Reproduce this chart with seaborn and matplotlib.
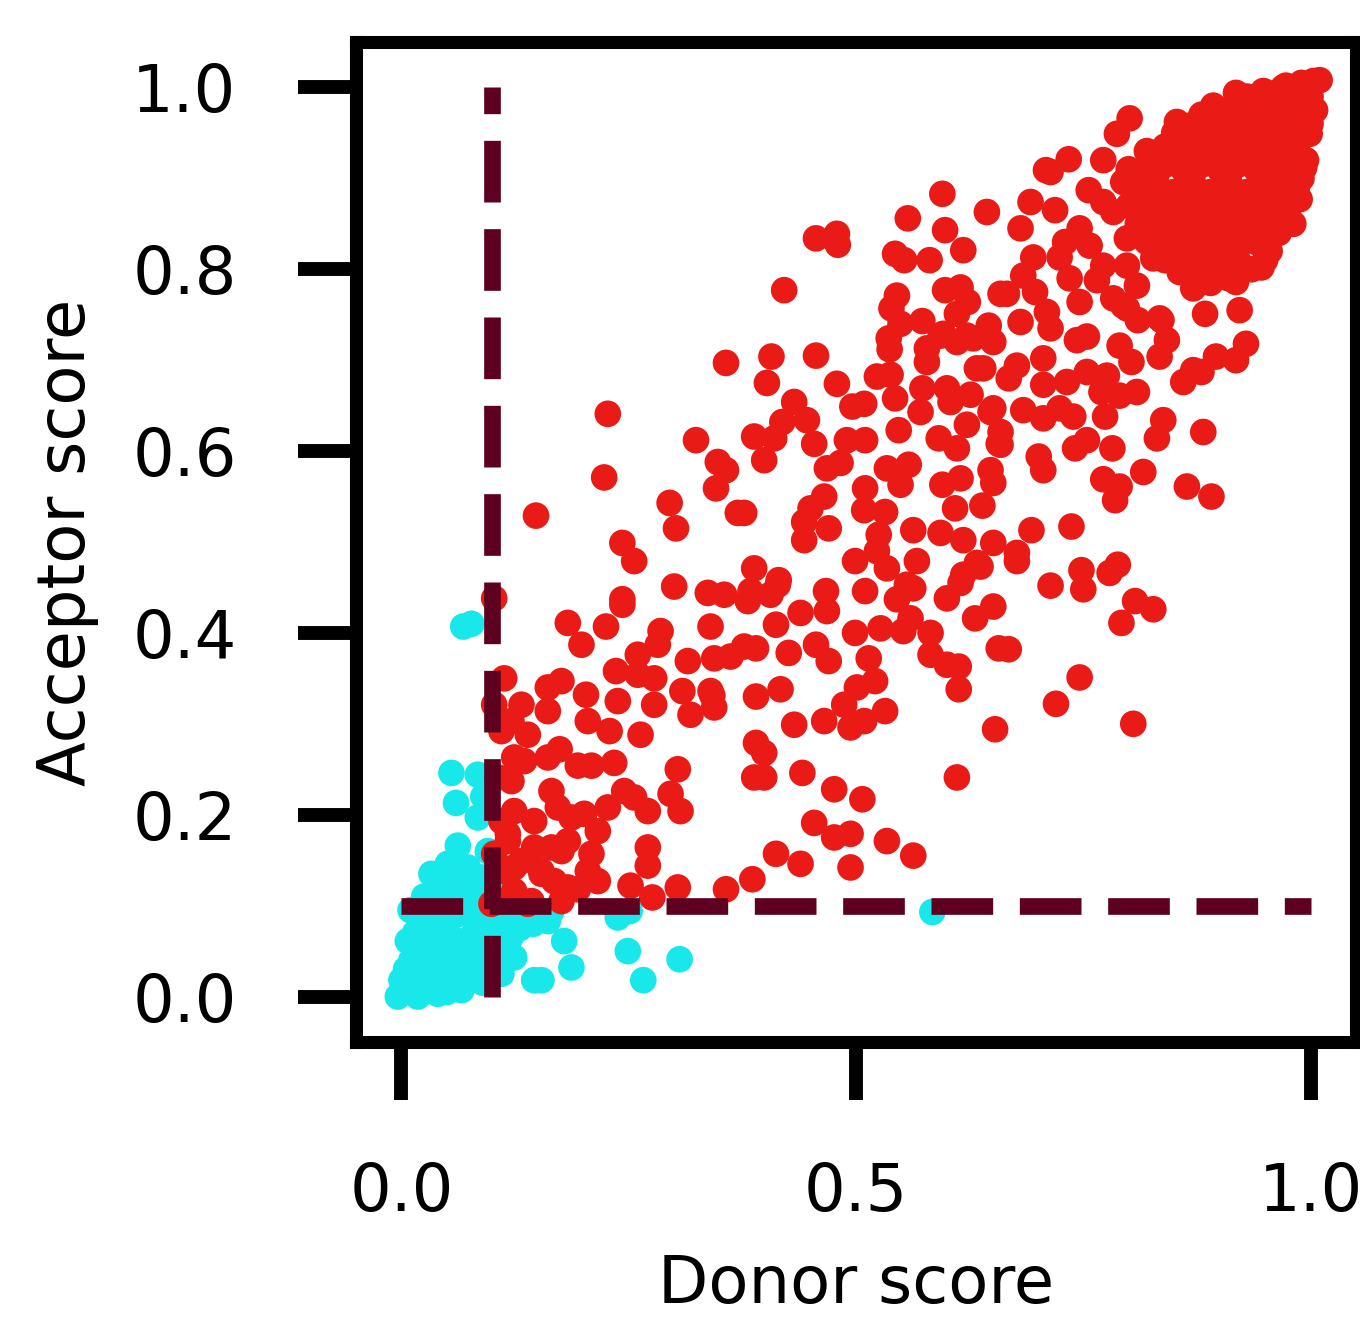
import numpy as np
import pandas as pd
import matplotlib
matplotlib.use("Agg")
import matplotlib.pyplot as plt
import seaborn as sns

# ---------------- data ----------------
red_x = [
    # upper middle
    0.595, 0.557, 0.644, 0.598, 0.456, 0.479, 0.480, 0.618, 0.543, 0.553, 0.581, 0.421, 0.545,
    0.539, 0.598, 0.615, 0.623, 0.611, 0.549, 0.573, 0.596, 0.622, 0.646, 0.659, 0.536,
    # middle
    0.407, 0.456, 0.402, 0.479, 0.537, 0.593, 0.578, 0.611, 0.629, 0.651, 0.633, 0.523, 0.538,
    0.543, 0.573, 0.578, 0.600, 0.604, 0.626, 0.651, 0.622, 0.571, 0.547, 0.591, 0.657, 0.611,
    0.432, 0.419, 0.446, 0.388, 0.410, 0.454, 0.399, 0.496, 0.509, 0.490, 0.510, 0.468, 0.483,
    0.534, 0.558, 0.549, 0.595, 0.615, 0.648, 0.510, 0.465, 0.450, 0.443, 0.470, 0.443, 0.509,
    0.532, 0.609, 0.639, 0.563, 0.593, 0.618, 0.651, 0.525, 0.523, 0.499, 0.567, 0.534, 0.633,
    0.618, 0.388, 0.415, 0.467, 0.510, 0.556, 0.377, 0.600,
    # left middle
    0.227, 0.324, 0.348, 0.357, 0.346, 0.223, 0.370, 0.148, 0.295, 0.302, 0.243, 0.256, 0.300,
    0.337, 0.355, 0.384, 0.243, 0.102, 0.357,
    # lower middle
    0.381, 0.406, 0.414, 0.468, 0.439, 0.412, 0.545, 0.563, 0.560, 0.615, 0.631, 0.651, 0.340,
    0.527, 0.552, 0.499, 0.582, 0.344, 0.362, 0.377, 0.390, 0.426, 0.456, 0.470, 0.514, 0.521,
    0.501, 0.582, 0.600, 0.613, 0.613, 0.657, 0.340, 0.344, 0.390, 0.417, 0.487, 0.509, 0.494,
    0.532, 0.465, 0.432, 0.653, 0.390, 0.399, 0.388, 0.399, 0.441, 0.476, 0.507, 0.611, 0.454,
    0.476, 0.494, 0.534, 0.563, 0.412, 0.439, 0.494, 0.386, 0.357,
    # right lower
    0.637, 0.677, 0.714, 0.748, 0.750, 0.779, 0.788, 0.807, 0.827, 0.792, 0.668, 0.746, 0.720,
    0.805,
    # right middle
    0.884, 0.922, 0.929, 0.918, 0.896, 0.880, 0.860, 0.871, 0.842, 0.834, 0.836, 0.810, 0.790,
    0.803, 0.798, 0.754, 0.743, 0.714, 0.681, 0.677, 0.668, 0.640, 0.706, 0.706, 0.732, 0.754,
    0.776, 0.770, 0.790, 0.809, 0.648, 0.684, 0.706, 0.724, 0.739, 0.774, 0.659, 0.659, 0.838,
    0.831, 0.882, 0.754, 0.741, 0.782, 0.701, 0.706, 0.651, 0.772, 0.816, 0.790, 0.785, 0.864,
    0.891, 0.693, 0.737, 0.677,
    # dense cluster edge
    0.801, 0.787, 0.853, 0.867, 0.893, 0.918, 0.948, 0.973, 1.003, 0.772, 0.734, 0.714, 0.756,
    0.692, 0.719, 0.681, 0.730, 0.695, 0.724, 0.684, 0.666, 0.697, 0.710, 0.735, 0.746, 0.765,
    0.783, 0.798, 0.809, 0.794, 0.834, 0.871, 0.900, 0.918, 0.946, 0.981, 0.988, 0.993, 0.999,
    0.948, 0.746, 0.757, 0.772, 0.798, 0.783, 0.772, 0.794, 0.816, 0.827, 0.856, 0.709,
    # dense cluster core
    0.930, 0.950, 0.970, 0.990, 1.010, 0.960, 0.980, 1.000, 1.005,
    0.880, 0.900, 0.920, 0.940, 0.960, 0.980, 1.000,
    0.850, 0.870, 0.890, 0.910, 0.930, 0.950, 0.970, 0.990,
    0.820, 0.840, 0.860, 0.880, 0.900, 0.920, 0.940, 0.960, 0.980, 0.995,
    0.800, 0.820, 0.840, 0.860, 0.880, 0.900, 0.920, 0.940, 0.960, 0.980,
    0.810, 0.830, 0.850, 0.870, 0.890, 0.910, 0.930, 0.950, 0.970, 0.985,
    0.800, 0.820, 0.840, 0.860, 0.880, 0.900, 0.920, 0.940, 0.960, 0.975,
    0.810, 0.830, 0.850, 0.870, 0.890, 0.910, 0.930, 0.950, 0.965,
    0.820, 0.840, 0.860, 0.880, 0.900, 0.920, 0.940, 0.955,
    0.840, 0.860, 0.880, 0.900, 0.920, 0.935,
    0.870, 0.890, 0.910,
    0.870, 0.910, 0.950, 0.890, 0.930, 0.970, 0.850, 0.870, 0.910, 0.950, 0.990, 0.830,
    0.850, 0.890, 0.930, 0.970, 0.830, 0.870, 0.910, 0.950, 0.850, 0.890, 0.930, 0.870,
    0.910, 0.950, 0.990, 0.970, 0.930, 0.890, 0.950,
    # lower left block
    0.183, 0.198, 0.225, 0.243, 0.285, 0.282, 0.260, 0.236, 0.260, 0.278, 0.315, 0.309, 0.318,
    0.342, 0.278, 0.238, 0.203, 0.205, 0.229, 0.263, 0.113, 0.132, 0.161, 0.176, 0.121, 0.139,
    0.161, 0.135, 0.121, 0.161, 0.174, 0.194, 0.209, 0.234, 0.304, 0.165, 0.124, 0.146, 0.172,
    0.187, 0.201, 0.227, 0.245, 0.256, 0.271, 0.296, 0.307, 0.216, 0.183, 0.165, 0.117, 0.132,
    0.113, 0.154, 0.168, 0.209, 0.205, 0.216, 0.271, 0.271, 0.252, 0.276, 0.304, 0.194, 0.176,
    0.124, 0.143, 0.110,
    0.124, 0.117, 0.146, 0.176, 0.124, 0.154, 0.183, 0.106, 0.139, 0.099,
    0.102, 0.110, 0.106, 0.110, 0.102,
]
red_y = [
    0.883, 0.856, 0.863, 0.843, 0.834, 0.839, 0.827, 0.821, 0.817, 0.810, 0.810, 0.777, 0.771,
    0.757, 0.777, 0.780, 0.764, 0.751, 0.740, 0.743, 0.729, 0.727, 0.738, 0.773, 0.724,
    0.704, 0.705, 0.675, 0.674, 0.712, 0.727, 0.713, 0.720, 0.724, 0.720, 0.691, 0.682, 0.684,
    0.658, 0.669, 0.698, 0.669, 0.654, 0.662, 0.647, 0.629, 0.643, 0.623, 0.614, 0.608, 0.603,
    0.654, 0.632, 0.634, 0.616, 0.614, 0.608, 0.590, 0.649, 0.652, 0.612, 0.612, 0.581, 0.587,
    0.581, 0.585, 0.563, 0.563, 0.570, 0.579, 0.559, 0.550, 0.537, 0.522, 0.515, 0.502, 0.535,
    0.533, 0.537, 0.540, 0.513, 0.510, 0.502, 0.499, 0.508, 0.490, 0.479, 0.479, 0.471, 0.477,
    0.464, 0.471, 0.458, 0.446, 0.446, 0.453, 0.532, 0.438,
    0.641, 0.612, 0.588, 0.579, 0.559, 0.571, 0.532, 0.529, 0.543, 0.515, 0.499, 0.479, 0.451,
    0.444, 0.442, 0.446, 0.437, 0.438, 0.697,
    0.435, 0.442, 0.453, 0.424, 0.422, 0.409, 0.437, 0.449, 0.416, 0.455, 0.416, 0.429, 0.407,
    0.405, 0.402, 0.400, 0.400, 0.372, 0.374, 0.385, 0.383, 0.378, 0.387, 0.369, 0.372, 0.347,
    0.340, 0.376, 0.365, 0.363, 0.338, 0.383, 0.336, 0.318, 0.330, 0.338, 0.321, 0.303, 0.296,
    0.314, 0.303, 0.299, 0.294, 0.279, 0.268, 0.241, 0.241, 0.246, 0.228, 0.217, 0.241, 0.191,
    0.175, 0.179, 0.171, 0.155, 0.157, 0.146, 0.142, 0.129, 0.118,
    0.473, 0.479, 0.452, 0.469, 0.448, 0.466, 0.475, 0.435, 0.426, 0.411, 0.382, 0.351, 0.322,
    0.300,
    0.751, 0.755, 0.718, 0.700, 0.704, 0.687, 0.676, 0.689, 0.722, 0.704, 0.744, 0.744, 0.716,
    0.698, 0.757, 0.726, 0.722, 0.735, 0.742, 0.694, 0.680, 0.691, 0.702, 0.673, 0.676, 0.687,
    0.683, 0.665, 0.661, 0.665, 0.643, 0.645, 0.636, 0.647, 0.638, 0.638, 0.621, 0.607, 0.634,
    0.614, 0.621, 0.612, 0.603, 0.603, 0.594, 0.579, 0.565, 0.569, 0.577, 0.561, 0.546, 0.561,
    0.550, 0.513, 0.517, 0.488,
    0.966, 0.949, 0.962, 0.958, 0.980, 0.994, 0.996, 1.002, 1.007, 0.920, 0.921, 0.907, 0.887,
    0.874, 0.865, 0.845, 0.830, 0.813, 0.813, 0.793, 0.773, 0.775, 0.753, 0.790, 0.764, 0.788,
    0.768, 0.804, 0.782, 0.760, 0.746, 0.779, 0.793, 0.786, 0.802, 0.850, 0.877, 0.912, 0.949,
    0.837, 0.845, 0.826, 0.804, 0.834, 0.863, 0.874, 0.896, 0.855, 0.812, 0.797, 0.909,
    0.990, 0.995, 1.000, 1.005, 1.008, 0.985, 0.990, 0.990, 0.975,
    0.970, 0.975, 0.980, 0.975, 0.970, 0.975, 0.960,
    0.950, 0.955, 0.950, 0.955, 0.960, 0.955, 0.950, 0.945,
    0.930, 0.935, 0.930, 0.935, 0.930, 0.940, 0.935, 0.930, 0.930, 0.920,
    0.910, 0.905, 0.915, 0.910, 0.915, 0.910, 0.915, 0.910, 0.905, 0.910,
    0.885, 0.890, 0.885, 0.890, 0.885, 0.890, 0.885, 0.890, 0.885, 0.890,
    0.870, 0.865, 0.870, 0.865, 0.870, 0.865, 0.870, 0.865, 0.870, 0.860,
    0.850, 0.845, 0.850, 0.845, 0.850, 0.845, 0.850, 0.845, 0.840,
    0.830, 0.825, 0.830, 0.825, 0.830, 0.825, 0.830, 0.820,
    0.810, 0.805, 0.810, 0.805, 0.810, 0.800,
    0.790, 0.785, 0.790,
    0.940, 0.945, 0.940, 0.920, 0.920, 0.915, 0.920, 0.900, 0.900, 0.900, 0.900, 0.900,
    0.875, 0.875, 0.875, 0.875, 0.860, 0.855, 0.855, 0.855, 0.835, 0.835, 0.835, 0.815,
    0.815, 0.810, 0.965, 0.985, 0.965, 0.960, 0.975,
    0.411, 0.387, 0.407, 0.431, 0.402, 0.387, 0.376, 0.358, 0.354, 0.350, 0.369, 0.336, 0.310,
    0.331, 0.321, 0.325, 0.332, 0.303, 0.292, 0.288, 0.350, 0.321, 0.340, 0.347, 0.303, 0.288,
    0.314, 0.259, 0.237, 0.263, 0.272, 0.254, 0.254, 0.257, 0.250, 0.226, 0.204, 0.193, 0.208,
    0.197, 0.201, 0.208, 0.226, 0.219, 0.204, 0.223, 0.204, 0.182, 0.171, 0.164, 0.171, 0.149,
    0.138, 0.138, 0.127, 0.157, 0.138, 0.127, 0.164, 0.144, 0.122, 0.109, 0.120, 0.118, 0.105,
    0.116, 0.105, 0.105,
    0.263, 0.179, 0.164, 0.160, 0.142, 0.135, 0.120, 0.105, 0.102, 0.102,
    0.321, 0.292, 0.241, 0.193, 0.157,
]

cyan_x = [
    0.068, 0.077, 0.055, 0.084, 0.060, 0.084, 0.062, 0.033, 0.051, 0.073, 0.088, 0.080, 0.059,
    0.022, 0.051, 0.080, 0.117, 0.135, 0.007, 0.033, 0.062, 0.088, 0.117, 0.124, 0.011, 0.040,
    0.069, 0.099, 0.110, 0.000, 0.026, 0.051, 0.077, -0.004, 0.018, 0.040, 0.066, 0.146, 0.179,
    0.187, 0.161, 0.165, 0.238, 0.251, 0.249, 0.306, 0.266, 0.154, 0.584,
    0.005, 0.020, 0.030, 0.045, 0.055, 0.060, 0.070, 0.080, 0.090, 0.095, 0.100, 0.105, 0.085,
    0.035, 0.045, 0.015, 0.025, 0.055, 0.065, 0.075, 0.100, 0.110, 0.005, 0.025, 0.050, 0.090,
    0.120, 0.130, 0.095, 0.090, 0.010, 0.040, 0.130, 0.145,
]
cyan_y = [
    0.407, 0.410, 0.246, 0.244, 0.213, 0.197, 0.166, 0.135, 0.146, 0.142, 0.131, 0.113, 0.109,
    0.083, 0.083, 0.087, 0.083, 0.087, 0.061, 0.065, 0.061, 0.054, 0.054, 0.043, 0.040, 0.043,
    0.036, 0.036, 0.025, 0.018, 0.018, 0.018, 0.018, 0.000, 0.000, 0.003, 0.007, 0.018, 0.061,
    0.032, 0.083, 0.094, 0.087, 0.094, 0.050, 0.041, 0.018, 0.018, 0.093,
    0.030, 0.050, 0.030, 0.060, 0.040, 0.090, 0.060, 0.070, 0.100, 0.080, 0.060, 0.045, 0.030,
    0.100, 0.120, 0.070, 0.110, 0.130, 0.100, 0.120, 0.120, 0.100, 0.010, 0.005, 0.005, 0.015,
    0.065, 0.075, 0.160, 0.220, 0.095, 0.085, 0.095, 0.080,
]

threshold = 0.1
line_span = [0.0, 1.0]
x_ticks = [0.0, 0.5, 1.0]
y_ticks = [0.0, 0.2, 0.4, 0.6, 0.8, 1.0]

# ---------------- figure ----------------
sns.set_style("ticks")
plt.rcParams["font.family"] = ["DejaVu Sans"]
plt.rcParams["text.color"] = "black"
plt.rcParams["axes.labelcolor"] = "black"

df = pd.DataFrame({
    "Donor score": cyan_x + red_x,
    "Acceptor score": cyan_y + red_y,
    "group": ["low"] * len(cyan_x) + ["high"] * len(red_x),
})

W, H, DPI = 1360, 1317, 200
fig = plt.figure(figsize=(W / DPI, H / DPI), dpi=DPI)
ax = fig.add_axes([356 / W, (H - 1042) / H, 1000 / W, 1000 / H])

sns.scatterplot(data=df, x="Donor score", y="Acceptor score", hue="group",
                palette={"low": "#19E8EA", "high": "#EA1A16"},
                s=92, linewidth=0, alpha=1, legend=False, ax=ax)

line_col = "#5E0020"
ax.plot([threshold, threshold], line_span, ls="--", color=line_col, lw=6.0, zorder=3)
ax.plot(line_span, [threshold, threshold], ls="--", color=line_col, lw=6.0, zorder=3)

ax.set_xlim(-0.05, 1.05)
ax.set_ylim(-0.05, 1.05)
ax.set_xticks(x_ticks)
ax.set_yticks(y_ticks)
ax.set_xticklabels([f"{v:.1f}" for v in x_ticks])
ax.set_yticklabels([f"{v:.1f}" for v in y_ticks])

for sp in ax.spines.values():
    sp.set_linewidth(4.7)
    sp.set_color("black")
ax.tick_params(axis="both", which="major", length=21, width=5, pad=22,
               labelsize=23.6, color="black", labelcolor="black")

ax.set_xlabel("Donor score", fontsize=23.6, labelpad=10, color="black")
ax.set_ylabel("Acceptor score", fontsize=23.6, labelpad=12, color="black")

fig.savefig("out.png", dpi=DPI)
